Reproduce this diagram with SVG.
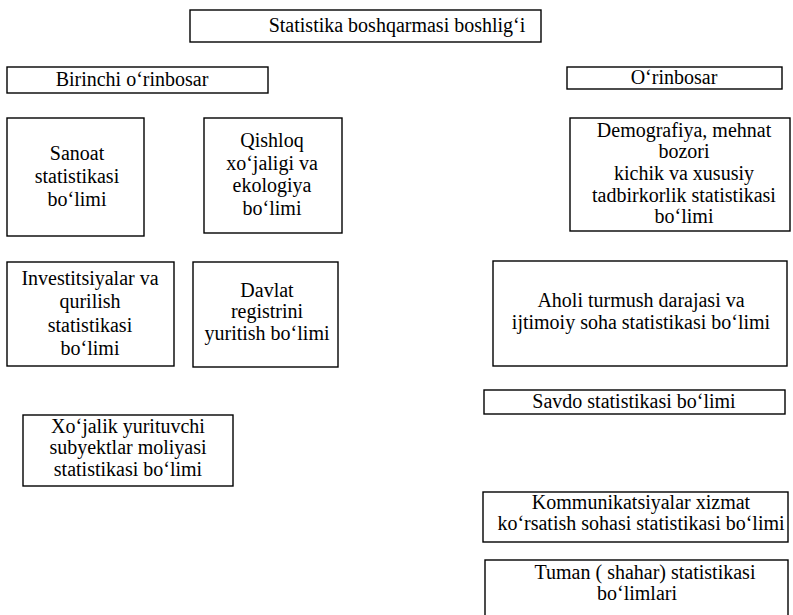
<svg xmlns="http://www.w3.org/2000/svg" width="793" height="615" viewBox="0 0 793 615">
<style>
rect.b{fill:#fff;stroke:#000;stroke-width:1.4}
text{font-family:"Liberation Serif","Times New Roman",serif;font-size:20px;fill:#000;text-anchor:middle}
</style>
<rect width="793" height="615" fill="#fff"/>
<g id="connectors"/>
<g id="n-head"><rect class="b" x="190" y="10" width="351" height="32"/><text x="397" y="32">Statistika boshqarmasi boshlig‘i</text></g>
<g id="n-birinchi"><rect class="b" x="7" y="67" width="261" height="26"/><text x="132" y="86">Birinchi o‘rinbosar</text></g>
<g id="n-orinbosar"><rect class="b" x="567" y="67" width="215" height="22"/><text x="674" y="84">O‘rinbosar</text></g>
<g id="n-sanoat"><rect class="b" x="7" y="118" width="137" height="118"/><text x="77"><tspan x="77" y="160">Sanoat</tspan><tspan x="77" y="183">statistikasi</tspan><tspan x="77" y="206">bo‘limi</tspan></text></g>
<g id="n-qishloq"><rect class="b" x="204" y="118" width="138" height="115"/><text x="272"><tspan x="272" y="147">Qishloq</tspan><tspan x="272" y="170">xo‘jaligi va</tspan><tspan x="272" y="192">ekologiya</tspan><tspan x="272" y="215">bo‘limi</tspan></text></g>
<g id="n-demografiya"><rect class="b" x="570" y="118" width="220" height="113"/><text x="684"><tspan x="684" y="137">Demografiya, mehnat</tspan><tspan x="684" y="158">bozori</tspan><tspan x="684" y="180">kichik va xususiy</tspan><tspan x="684" y="202">tadbirkorlik statistikasi</tspan><tspan x="684" y="223">bo‘limi</tspan></text></g>
<g id="n-investitsiya"><rect class="b" x="7" y="262" width="167" height="104"/><text x="90"><tspan x="90" y="285">Investitsiyalar va</tspan><tspan x="90" y="308">qurilish</tspan><tspan x="90" y="332">statistikasi</tspan><tspan x="90" y="355">bo‘limi</tspan></text></g>
<g id="n-davlat"><rect class="b" x="193" y="262" width="145" height="105"/><text x="267"><tspan x="267" y="297">Davlat</tspan><tspan x="267" y="318">registrini</tspan><tspan x="267" y="340">yuritish bo‘limi</tspan></text></g>
<g id="n-aholi"><rect class="b" x="493" y="261" width="294" height="105"/><text x="641"><tspan x="641" y="307">Aholi turmush darajasi va</tspan><tspan x="641" y="329">ijtimoiy soha statistikasi bo‘limi</tspan></text></g>
<g id="n-savdo"><rect class="b" x="484" y="390" width="301" height="24"/><text x="634" y="408">Savdo statistikasi bo‘limi</text></g>
<g id="n-xojalik"><rect class="b" x="23" y="415" width="210" height="71"/><text x="128"><tspan x="128" y="433">Xo‘jalik yurituvchi</tspan><tspan x="128" y="454">subyektlar moliyasi</tspan><tspan x="128" y="476">statistikasi bo‘limi</tspan></text></g>
<g id="n-kommunikatsiya"><rect class="b" x="483" y="492" width="305" height="50"/><text x="641"><tspan x="641" y="509">Kommunikatsiyalar xizmat</tspan><tspan x="641" y="530">ko‘rsatish sohasi statistikasi bo‘limi</tspan></text></g>
<g id="n-tuman"><rect class="b" x="485" y="560" width="303" height="60"/><text x="643"><tspan x="645" y="579">Tuman ( shahar) statistikasi</tspan><tspan x="637" y="600">bo‘limlari</tspan></text></g>
</svg>
